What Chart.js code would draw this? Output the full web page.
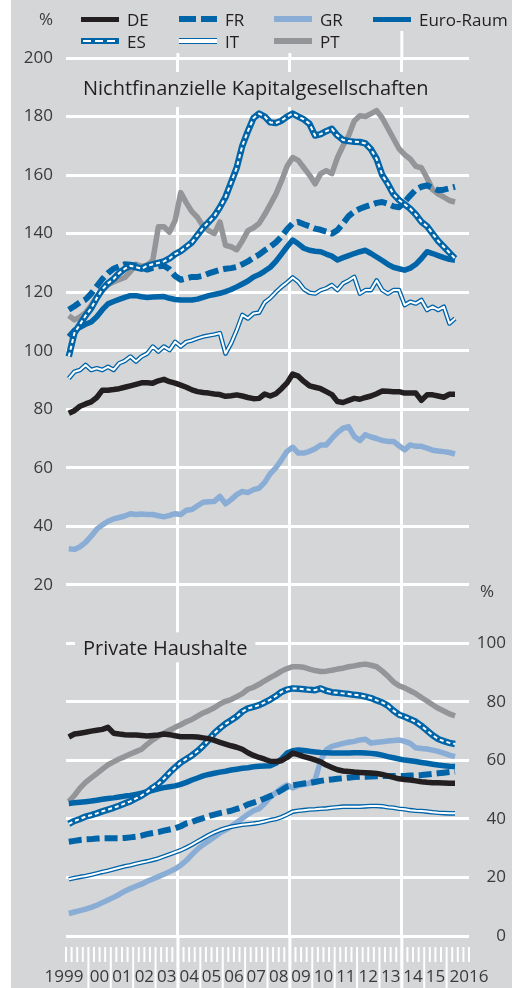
<!DOCTYPE html>
<html><head><meta charset="utf-8">
<script src="https://cdn.jsdelivr.net/npm/chart.js@4.4.1/dist/chart.umd.min.js"></script>
<style>
html,body{margin:0;padding:0;background:#fff;}
#wrap{position:relative;width:512px;height:988px;overflow:hidden;}
canvas{position:absolute;left:0;top:0;}
.item{position:absolute;height:22px;display:flex;align-items:center;font:17px 'Open Sans','Noto Sans',sans-serif;color:#231f20;white-space:nowrap;}
.sw{width:38px;height:6px;margin-right:8px;position:relative;flex:none;}
</style></head>
<body><div id="wrap"><canvas id="c" width="512" height="988"></canvas><div id="legend"></div></div>
<script>
// ---------- data ----------
const years = [1999,2000,2001,2002,2003,2004,2005,2006,2007,2008,2009,2010,2011,2012,2013,2014,2015,2016];
const quarters = ['Q1','Q2','Q3','Q4'];
const yearLabels = ['1999','00','01','02','03','04','05','06','07','08','09','10','11','12','13','14','15','2016'];
const seriesNames = ['DE','FR','GR','Euro-Raum','ES','IT','PT'];
const panelTitles = ['Nichtfinanzielle Kapitalgesellschaften','Private Haushalte'];
const unitLabel = '%';

// Nichtfinanzielle Kapitalgesellschaften (% des BIP), quarterly 1999Q1-2016Q2
const nfcDE = [78.6,79.5,81,81.8, 82.5,84,86.5,86.5, 86.7,87,87.5,88, 88.5,89,89,88.9, 89.7,90.2,89.4,88.9, 88.2,87.5,86.6,86, 85.7,85.5,85.2,85, 84.4,84.6,84.9,84.5, 84,83.6,83.7,85.2, 84.5,85.3,87,89, 92,91.3,89.5,88, 87.5,87,86,85, 82.6,82.3,83,83.7, 83.4,84,84.5,85.3, 86.2,86.1,86,86, 85.5,85.5,85.5,83, 84.9,84.9,84.5,84.1, 85.1,85.1];
const nfcFR = [114,115.2,116.5,117.5, 119.5,122,124.5,126.5, 128,128.8,129.5,129.4, 129,128.4,127.7,128.3, 128.8,129,127.8,125.5, 124.2,124.7,125.2,125.2, 125.6,126.4,127,127.6, 128,128.2,128.6,129.5, 130.5,131.8,132.8,134.3, 135.5,137,139,141.5, 143.5,144,143.2,142.5, 141.7,141.3,140.7,140, 141.2,143.5,146,147.5, 148.5,149.2,149.8,150.5, 150.8,150.2,149.3,149, 150.8,153,155,156, 156.5,155.6,154.8,155, 155.5,156];
const nfcGR = [32.3,32.1,33,34.5, 36.6,39,40.5,41.7, 42.5,43,43.5,44.3, 44,44.2,44,44, 43.6,43.2,43.7,44.3, 44,45.5,45.7,47, 48.2,48.4,48.5,50.2, 47.7,49.1,50.8,51.9, 51.5,52.5,53,55, 58,60,62.7,65.6, 67,65,65,65.6, 66.5,67.8,67.8,70, 72,73.5,74,70.7, 69.3,71.3,70.5,70, 69.3,69,69,67.5, 66.1,67.8,67.3,67.3, 66.7,66,65.7,65.5, 65.2,64.7];
const nfcEA = [104.8,107,108,109, 109.8,111.6,114,116, 116.8,117.5,118.2,118.8, 118.8,118.4,118.2,118.3, 118.4,118.5,117.9,117.5, 117.3,117.3,117.3,117.6, 118.2,118.8,119.2,119.6, 120.2,120.9,121.8,122.8, 123.8,125.2,126,127.2, 128.5,130.5,133,135.5, 137.8,136.5,135,134.3, 134,133.8,133,132.3, 131,131.8,132.5,133.2, 133.8,134.3,133.2,132, 130.8,129.5,128.5,128, 127.5,128.2,129.5,131.5, 133.8,133.2,132.5,131.8, 131.2,130.9];
const nfcES = [98,106,109,112, 114.5,118,121,123, 124.5,126.5,128,129, 128.5,128,129,129.5, 130,130.5,131.5,133, 134,135.5,137,139.5, 142,144,146,149, 152.5,157.5,162.5,170, 175,179.5,181,180, 178,177.8,178.6,180, 181,180,179,177.5, 173.5,174,175,175.8, 173.5,172,171.6,171.4, 171.3,170.8,168.8,165.5, 160,157,153.5,151.5, 150,148.5,146.5,144, 142.5,140,137.5,135.5, 133.5,131.5];
const nfcIT = [90.5,92.8,93.4,95.1, 93.4,94,93.4,94.5, 93.4,95.7,96.5,98, 96.3,98,99,101.4, 99.7,101.4,100.2,103, 101.4,103,103.5,104.2, 104.8,105.2,105.5,106, 99,102.5,107,112.2, 111,112.7,113,116.5, 118,120,121.8,123.3, 125,123.5,121,119.8, 119.5,120.7,121.3,122.4, 120.7,123,124,125.2, 119.5,120.7,120.7,124, 120.7,119.5,120.7,120.7, 115.6,116.7,116.1,117.3, 113.9,115,113.9,115, 109.3,111];
const nfcPT = [112,110.5,111.5,113, 115.5,118.5,120.5,122.5, 123.5,124.3,125,127, 129.5,128.8,129.2,130.8, 142.3,142.3,140.5,144.5, 154,150.5,147.5,145.5, 142.5,141,140,144, 136,135.5,134.5,137.5, 141,142,143.5,146.5, 150,153.5,158,163, 166,165,162.5,160, 157,160.5,161.5,160.5, 166,170,173.5,178.5, 180.3,180,181,182, 179.5,176,172.5,169, 167,165.5,163,162.5, 159,155,153.5,152.5, 151.3,150.8];

// Private Haushalte (% des BIP)
const hhDE = [68,69,69.3,69.6, 70,70.3,70.6,71.3, 69.3,69,68.8,68.7, 68.7,68.5,68.3,68.5, 68.7,69,68.8,68.4, 68.1,68.1,68.1,68, 67.7,67.4,66.8,66.2, 65.6,65,64.5,63.8, 62.6,61.7,61,60.4, 59.7,59.6,59.9,61, 62.5,62,61.3,60.8, 60.2,59.5,58.4,57.6, 56.8,56.4,56.2,56, 55.9,55.8,55.7,55.5, 55.2,54.7,54.2,53.7, 53.5,53.3,53,52.7, 52.5,52.4,52.4,52.3, 52.2,52.2];
const hhFR = [32.2,32.5,32.8,33, 33.1,33.3,33.4,33.4, 33.4,33.4,33.5,33.7, 33.9,34.3,34.8,35.2, 35.5,36,36.4,36.8, 37.5,38.5,39,39.7, 40.3,41,41.5,42, 42.4,42.8,43.4,44, 45,45.6,46.2,47, 47.8,48.7,49.8,51, 51.5,51.8,52.1,52.3, 52.6,53,53.3,53.5, 53.7,53.9,54.1,54.3, 54.4,54.4,54.5,54.6, 54.7,54.7,54.7,54.7, 54.7,54.8,54.9,55, 55.2,55.4,55.6,55.8, 56,56.2];
const hhGR = [7.7,8.2,8.7,9.2, 9.8,10.5,11.4,12.3, 13.2,14.2,15.3,16.2, 17,17.7,18.7,19.5, 20.3,21.1,22,22.9, 24.2,25.8,27.8,29.7, 31.2,32.5,33.8,35.2, 36.3,37.4,38.8,40.2, 41.6,42.8,43.5,45.3, 47.5,49,50.5,51.6, 50.6,51.4,51.8,52.2, 53.3,60,63.6,64.8, 65.3,65.8,66.2,66.5, 67,67.2,65.9,66.2, 66.4,66.6,66.8,67, 66.5,65.8,64.3,64.1, 63.9,63.5,63.1,62.5, 61.8,61.3];
const hhEA = [45.3,45.5,45.7,45.9, 46.1,46.4,46.7,47, 47.2,47.5,47.8,48, 48.4,48.8,49.3,49.8, 50.3,50.7,51,51.3, 51.8,52.5,53.3,54, 54.7,55.2,55.6,56, 56.3,56.7,57,57.3, 57.5,57.8,58,58.1, 58.2,59,60.5,62.5, 63.3,63.6,63.4,63.1, 62.9,62.7,62.6,62.5, 62.5,62.5,62.5,62.6, 62.6,62.5,62.4,62.2, 61.8,61.3,60.9,60.5, 60.1,59.9,59.6,59.3, 59,58.7,58.4,58.2, 58,57.9];
const hhES = [38.3,39.3,40,40.8, 41.3,41.9,42.6,43.2, 43.8,44.5,45.3,46, 47,48,49.2,50.7, 52,53.8,55.8,57.6, 59.3,60.5,61.7,63.2, 65,67,69.3,71, 72.5,73.7,75,76.7, 77.8,78.3,78.9,79.8, 80.8,82,83.4,84.2, 84.6,84.5,84.3,84.1, 84,84.6,83.8,83.3, 83.1,82.9,82.7,82.4, 82.2,81.8,81.3,80.5, 79.8,78.7,77,75.6, 74.9,74.1,73.2,71.8, 70.2,68.6,67.3,66.6, 66,65.6];
const hhIT = [19.4,19.8,20.2,20.5, 20.9,21.4,21.9,22.3, 22.8,23.3,23.8,24.2, 24.7,25.1,25.5,26, 26.5,27.2,27.9,28.6, 29.3,30.2,31.2,32.3, 33.4,34.5,35.4,36.2, 36.8,37.3,37.7,38, 38.2,38.4,38.7,39.1, 39.6,40,40.6,41.5, 42.5,42.8,43,43.2, 43.3,43.5,43.6,43.8, 44,44.2,44.2,44.2, 44.2,44.3,44.4,44.4, 44.3,44,43.8,43.5, 43.3,43,42.8,42.7, 42.5,42.3,42.1,42, 41.9,41.9];
const hhPT = [45.9,48,50.5,52.5, 54,55.5,57,58.5, 59.5,60.5,61.3,62.2, 63,63.8,65.5,67, 68.3,69.3,70.3,71.3, 72.2,73.2,74,75.1, 76.2,77,78,79.3, 80.2,80.8,81.8,82.8, 84.3,85,86,87.2, 88.3,89.3,90.5,91.4, 92,92,91.8,91.2, 90.7,90.4,90.5,90.8, 91.2,91.5,92,92.3, 92.7,92.9,92.5,92, 90.5,88.8,86.8,85.5, 84.8,83.8,82.8,81.5, 80.3,79,77.8,76.9, 75.9,75.2];

// y-axis tick labels
const leftTickLabels = [20,40,60,80,100,120,140,160,180,200];
const rightTickLabels = [0,20,40,60,80,100];

// ---------- styles ----------
const BLUE='#0064a8', LBLUE='#8aadd6', GREY='#939598', BLACK='#231f20', BG='#d5d6d8', TXT='#3a3a3a';
const FONT="'Open Sans','Noto Sans',sans-serif";

const quarterLabels = years.flatMap(y => quarters.map(q => y + ' ' + q));

const topData = {DE:nfcDE, FR:nfcFR, GR:nfcGR, 'Euro-Raum':nfcEA, ES:nfcES, IT:nfcIT, PT:nfcPT};
const botData = {DE:hhDE, FR:hhFR, GR:hhGR, 'Euro-Raum':hhEA, ES:hhES, IT:hhIT, PT:hhPT};

const style = {
  'DE':        {color:BLACK, width:5.5, order:1},
  'ES':        {color:BLUE,  width:6.5, order:3, inner:{color:'#fff', width:2, dash:[4,3], order:2}},
  'Euro-Raum': {color:BLUE,  width:5.5, order:4},
  'FR':        {color:BLUE,  width:6,   order:5, dash:[13,5]},
  'IT':        {color:BLUE,  width:4.6, order:7, inner:{color:'#fff', width:2, order:6}},
  'PT':        {color:GREY,  width:5.5, order:8},
  'GR':        {color:LBLUE, width:5.5, order:9}
};

function mk(label, data, axis, color, width, order, dash){
  return {label, data, yAxisID:axis, xAxisID:'x', borderColor:color, backgroundColor:color,
    borderWidth:width, borderDash:dash||[], pointRadius:0, pointHoverRadius:0, tension:0,
    fill:false, order, borderJoinStyle:'round', borderCapStyle:'butt'};
}
const datasets = [];
[[topData,'y'],[botData,'y2']].forEach(([src,axis]) => {
  seriesNames.forEach(name => {
    const s = style[name];
    datasets.push(mk(name, src[name], axis, s.color, s.width, s.order, s.dash));
    if (s.inner) datasets.push(mk(name+' (innen)', src[name], axis, s.inner.color, s.inner.width, s.inner.order, s.inner.dash));
  });
});

// Year label scale: first label right-aligned, last label left-aligned inside their year
class YearScale extends Chart.CategoryScale {
  _computeLabelItems(chartArea){
    const items = super._computeLabelItems(chartArea);
    try {
      const half = (this.right - this.left) / this.ticks.length / 2;
      if (items.length > 1){
        const f = items[0].options, l = items[items.length-1].options;
        f.textAlign = 'right'; f.translation = [f.translation[0] + half - 5, f.translation[1]];
        l.textAlign = 'left';  l.translation = [l.translation[0] - half + 3, l.translation[1]];
      }
    } catch(e) {}
    return items;
  }
}
YearScale.id = 'yearcat';
YearScale.defaults = Chart.CategoryScale.defaults;
Chart.register(YearScale);

// ---------- decorations plugin ----------
const deco = {
  id:'deco',
  beforeDraw(chart){
    const {ctx,width,height} = chart;
    ctx.save();
    ctx.fillStyle='#fff'; ctx.fillRect(0,0,width,height);
    ctx.fillStyle=BG; ctx.fillRect(11,0,width-11,height);
    ctx.restore();
  },
  beforeDatasetsDraw(chart){
    const {ctx, chartArea:ca, scales} = chart;
    const xs = scales.x, n = xs.ticks.length, step = (xs.right - xs.left)/n;
    ctx.save();
    ctx.strokeStyle='#fff';
    for (let i=0;i<=n;i++){
      const x = xs.left + i*step;
      const yearLine = (i%4===0) && i>0 && i<n;
      ctx.lineWidth = 2;
      ctx.beginPath();
      ctx.moveTo(x, ca.bottom+11);
      ctx.lineTo(x, yearLine ? chart.height : ca.bottom+26);
      ctx.stroke();
    }
    [20,40,60].forEach(i=>{
      const x = xs.left + i*step;
      ctx.lineWidth = 3;
      ctx.beginPath();
      ctx.moveTo(x, i===60 ? 31 : 53); ctx.lineTo(x, ca.top);
      ctx.moveTo(x, ca.bottom); ctx.lineTo(x, chart.height);
      ctx.stroke();
    });
    const y2 = scales.y2;
    ctx.font = '20px ' + FONT;
    ctx.textBaseline = 'alphabetic';
    ctx.textAlign = 'left';
    const t1w = ctx.measureText(panelTitles[0]).width;
    const t2w = ctx.measureText(panelTitles[1]).width;
    const yh = y2.getPixelForValue(100);
    ctx.fillStyle = BG;
    ctx.fillRect(ca.left+9, ca.top+14, t1w+16, 35);
    ctx.fillRect(ca.left+9, yh-11, t2w+16, 30);
    ctx.fillStyle = BLACK;
    ctx.fillText(panelTitles[0], ca.left+17, ca.top+37);
    ctx.fillText(panelTitles[1], ca.left+17, yh+12);
    ctx.font = '17px ' + FONT;
    ctx.fillStyle = TXT;
    ctx.textBaseline = 'middle';
    ctx.textAlign = 'right';
    ctx.fillText(unitLabel, ca.left-13, 20);
    ctx.textAlign = 'left';
    ctx.fillText(unitLabel, ca.right+11, 592);
    ctx.restore();
  }
};

new Chart(document.getElementById('c'), {
  type:'line',
  data:{labels:quarterLabels, datasets},
  plugins:[deco],
  options:{
    responsive:false, animation:false, devicePixelRatio:1,
    layout:{padding:{top:58,left:0,right:6,bottom:0}},
    plugins:{legend:{display:false}, tooltip:{enabled:false}},
    scales:{
      x:{type:'category', labels:quarterLabels, offset:true, position:'bottom',
         grid:{display:true, offset:true, drawTicks:false, lineWidth:3,
               color:(c)=> (c.index===20||c.index===40||c.index===60) ? '#ffffff' : 'rgba(0,0,0,0)'},
         border:{display:false}, ticks:{display:false},
         afterFit:(s)=>{s.height=0;}},
      x2:{type:'yearcat', labels:yearLabels, offset:true, position:'bottom',
          grid:{display:false, drawTicks:false}, border:{display:false},
          ticks:{color:TXT, font:{family:FONT,size:17}, padding:31, maxRotation:0, autoSkip:false},
          afterFit:(s)=>{s.height=52;}},
      y:{type:'linear', position:'left', min:-100, max:200,
         ticks:{stepSize:20, color:TXT, font:{family:FONT,size:17}, padding:13,
                callback:(v)=> leftTickLabels.includes(v) ? String(v) : ''},
         grid:{color:'#ffffff', lineWidth:3, drawTicks:false}, border:{display:false},
         afterFit:(s)=>{s.width=66;}},
      y2:{type:'linear', position:'right', min:0, max:300,
          ticks:{stepSize:20, color:TXT, font:{family:FONT,size:17}, padding:9, crossAlign:'far',
                 callback:(v)=> rightTickLabels.includes(v) ? String(v) : ''},
          grid:{display:false, drawTicks:false}, border:{display:false},
          afterFit:(s)=>{s.width=37;}}
    }
  }
});

// ---------- legend (HTML) ----------
const legendPos = {
  'DE':[81,8], 'FR':[179,8], 'GR':[274,8], 'Euro-Raum':[373,8],
  'ES':[81,30], 'IT':[179,30], 'PT':[274,30]
};
const swatchCss = {
  'DE':'background:'+BLACK+';height:5px;',
  'FR':'background:linear-gradient(to right,'+BLUE+' 0 17px,transparent 17px 22px,'+BLUE+' 22px 38px);height:6px;',
  'GR':'background:'+LBLUE+';height:6px;',
  'Euro-Raum':'background:'+BLUE+';height:5px;',
  'ES':'background:'+BLUE+';height:6px;',
  'IT':'background:#fff;height:6px;box-sizing:border-box;border-top:1.5px solid '+BLUE+';border-bottom:1.5px solid '+BLUE+';',
  'PT':'background:'+GREY+';height:6px;'
};
const leg = document.getElementById('legend');
seriesNames.forEach(name=>{
  const [x,y] = legendPos[name];
  const it = document.createElement('div');
  it.className='item'; it.style.left=x+'px'; it.style.top=y+'px';
  const sw = document.createElement('span');
  sw.className='sw'; sw.style.cssText += swatchCss[name];
  if (name==='ES'){
    const inner = document.createElement('span');
    inner.style.cssText='position:absolute;left:2px;right:2px;top:2px;height:2px;background:repeating-linear-gradient(to right,#fff 0 8px,transparent 8px 12px);';
    sw.appendChild(inner);
  }
  const tx = document.createElement('span'); tx.textContent = name;
  it.appendChild(sw); it.appendChild(tx);
  leg.appendChild(it);
});
</script></body></html>
